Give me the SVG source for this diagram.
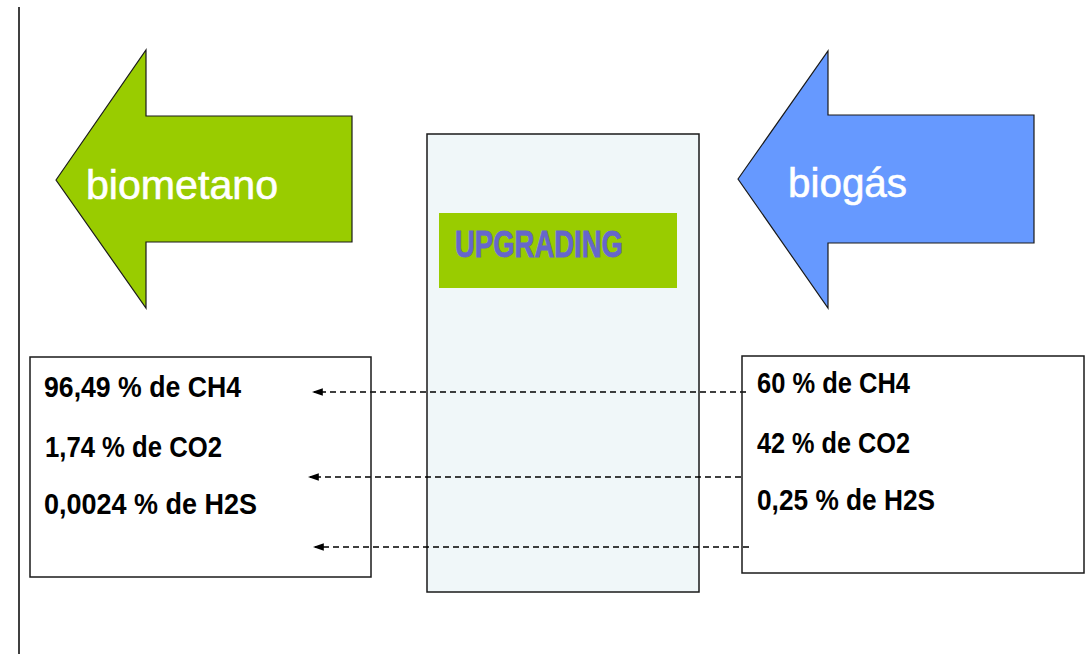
<svg xmlns="http://www.w3.org/2000/svg" width="1089" height="654" viewBox="0 0 1089 654">
<style>
.arrow{stroke:#1a1a1a;stroke-width:1.2}
.big{font-family:"Liberation Sans",Arial,sans-serif;font-size:40px;fill:#ffffff;stroke:#ffffff;stroke-width:0.6}
.box{fill:none;stroke:#1a1a1a;stroke-width:1.5}
.val{font-family:"Liberation Sans",Arial,sans-serif;font-size:29px;font-weight:bold;fill:#000000}
.dash{stroke:#000000;stroke-width:1.3;stroke-dasharray:6 4;fill:none}
</style>
<defs>
<marker id="ah" viewBox="0 0 10 10" refX="8" refY="5" markerWidth="11" markerHeight="11" markerUnits="userSpaceOnUse" orient="auto">
<path d="M10,5 L0,1.5 L0,8.5 Z" fill="#000000"/>
</marker>
</defs>
<rect x="0" y="0" width="1089" height="654" fill="#ffffff"/>
<line x1="19" y1="7" x2="19" y2="654" stroke="#000000" stroke-width="1.5"/>

<g id="biometano">
<polygon class="arrow" fill="#99cc00" points="56,180 146,50 146,116 352,116 352,242 146,242 146,308"/>
<text class="big" x="86" y="199" textLength="192" lengthAdjust="spacingAndGlyphs">biometano</text>
</g>

<g id="biogas">
<polygon class="arrow" fill="#6699ff" points="738,179 828,51 828,115 1034,115 1034,243 828,243 828,308"/>
<text class="big" x="788" y="197" textLength="119" lengthAdjust="spacingAndGlyphs">biogás</text>
</g>

<g id="upgrading">
<rect x="427" y="134" width="272" height="458" fill="#f0f7f9" stroke="#1a1a1a" stroke-width="1.5"/>
<rect x="439" y="213" width="238" height="75" fill="#99cc00"/>
<text x="455" y="257" font-family="Liberation Sans,Arial,sans-serif" font-size="37" font-weight="bold" fill="#6666cc" stroke="#6666cc" stroke-width="0.8" textLength="168" lengthAdjust="spacingAndGlyphs">UPGRADING</text>
</g>

<g id="connectors">
<line class="dash" x1="746" y1="392" x2="314" y2="392" marker-end="url(#ah)"/>
<line class="dash" x1="741" y1="477" x2="310" y2="477" marker-end="url(#ah)"/>
<line class="dash" x1="749" y1="547" x2="315" y2="547" marker-end="url(#ah)"/>
</g>

<g id="output-box">
<rect class="box" x="30" y="357" width="341" height="220"/>
<text class="val" x="44" y="397" textLength="197" lengthAdjust="spacingAndGlyphs">96,49 % de CH4</text>
<text class="val" x="45" y="457" textLength="177" lengthAdjust="spacingAndGlyphs">1,74 % de CO2</text>
<text class="val" x="44" y="514" textLength="213" lengthAdjust="spacingAndGlyphs">0,0024 % de H2S</text>
</g>

<g id="input-box">
<rect class="box" x="742" y="356" width="342" height="217"/>
<text class="val" x="757" y="393" textLength="153" lengthAdjust="spacingAndGlyphs">60 % de CH4</text>
<text class="val" x="757" y="453" textLength="153" lengthAdjust="spacingAndGlyphs">42 % de CO2</text>
<text class="val" x="757" y="510" textLength="178" lengthAdjust="spacingAndGlyphs">0,25 % de H2S</text>
</g>
</svg>
